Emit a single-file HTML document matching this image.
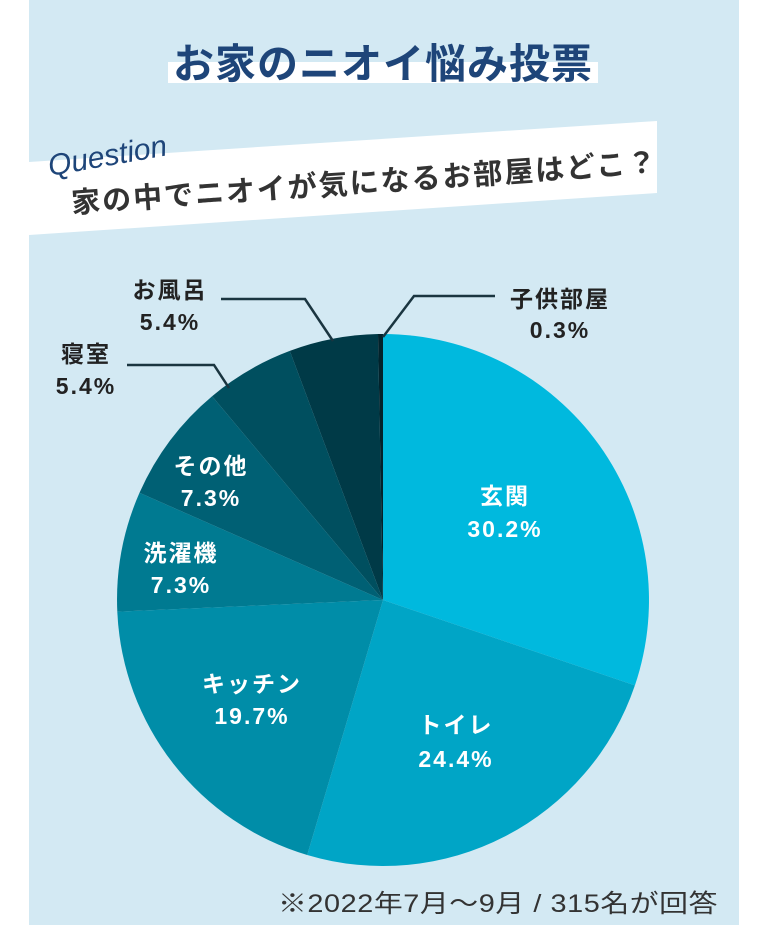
<!DOCTYPE html>
<html><head><meta charset="utf-8"><style>
html,body{margin:0;padding:0;background:#fff;}
body{width:766px;height:928px;position:relative;overflow:hidden;}
svg{position:absolute;left:0;top:0;}
text{font-family:"Liberation Sans","Noto Sans CJK JP",sans-serif;}
</style></head><body>
<svg width="766" height="928" viewBox="0 0 766 928">
<rect x="0" y="0" width="766" height="928" fill="#ffffff"/>
<rect x="29" y="0" width="710" height="925" fill="#d3e9f3"/>
<!-- title -->
<rect x="168" y="62" width="430" height="21" fill="#ffffff"/>
<text x="383" y="78" text-anchor="middle" font-size="41" font-weight="bold" fill="#1e4579" letter-spacing="1">お家のニオイ悩み投票</text>
<!-- question band -->
<polygon points="29,162 657,121 657,193 29,235" fill="#ffffff"/>
<text x="50" y="176" font-family="Liberation Serif, serif" font-style="italic" font-size="30" fill="#1e4579" transform="rotate(-10 50 176)">Question</text>
<text x="72" y="213" font-size="29" fill="#333" font-weight="bold" letter-spacing="2" transform="rotate(-4 72 213)">家の中でニオイが気になるお部屋はどこ？</text>
<!-- pie -->
<path d="M383,600 L383,334 A266,266 0 0,1 634.9,685.4 Z" fill="#00b9de"/>
<path d="M383,600 L634.9,685.4 A266,266 0 0,1 307.2,855.0 Z" fill="#00a5c6"/>
<path d="M383,600 L307.2,855.0 A266,266 0 0,1 117.3,611.7 Z" fill="#008da8"/>
<path d="M383,600 L117.3,611.7 A266,266 0 0,1 139.5,492.8 Z" fill="#007a91"/>
<path d="M383,600 L139.5,492.8 A266,266 0 0,1 212.1,396.2 Z" fill="#006074"/>
<path d="M383,600 L212.1,396.2 A266,266 0 0,1 289.8,350.9 Z" fill="#004f5f"/>
<path d="M383,600 L289.8,350.9 A266,266 0 0,1 378.0,334.0 Z" fill="#003a47"/>
<path d="M383,600 L378.0,334.0 A266,266 0 0,1 383,334 Z" fill="#02222b"/>
<!-- leaders -->
<g fill="none" stroke="#1a3540" stroke-width="2.5">
<polyline points="495,296 414,296 383,337"/>
<polyline points="221,299 305,299 333,341"/>
<polyline points="127,365 214,365 229,388"/>
</g>
<g font-size="23" font-weight="bold" letter-spacing="2" text-anchor="middle">
<text x="560" y="307" fill="#222">子供部屋</text>
<text x="560" y="338" fill="#222">0.3%</text>
<text x="170" y="298" fill="#222">お風呂</text>
<text x="170" y="330" fill="#222">5.4%</text>
<text x="86" y="362" fill="#222">寝室</text>
<text x="86" y="394" fill="#222">5.4%</text>
<g fill="#ffffff">
<text x="211" y="474">その他</text>
<text x="211" y="506">7.3%</text>
<text x="181" y="561">洗濯機</text>
<text x="181" y="593">7.3%</text>
<text x="505" y="504">玄関</text>
<text x="505" y="537">30.2%</text>
<text x="252" y="692">キッチン</text>
<text x="252" y="724">19.7%</text>
<text x="456" y="733">トイレ</text>
<text x="456" y="767">24.4%</text>
</g>
</g>
<text x="718" y="912" text-anchor="end" font-size="25" fill="#333" letter-spacing="0.5" textLength="440" lengthAdjust="spacingAndGlyphs">※2022年7月〜9月 / 315名が回答</text>
</svg>
</body></html>
